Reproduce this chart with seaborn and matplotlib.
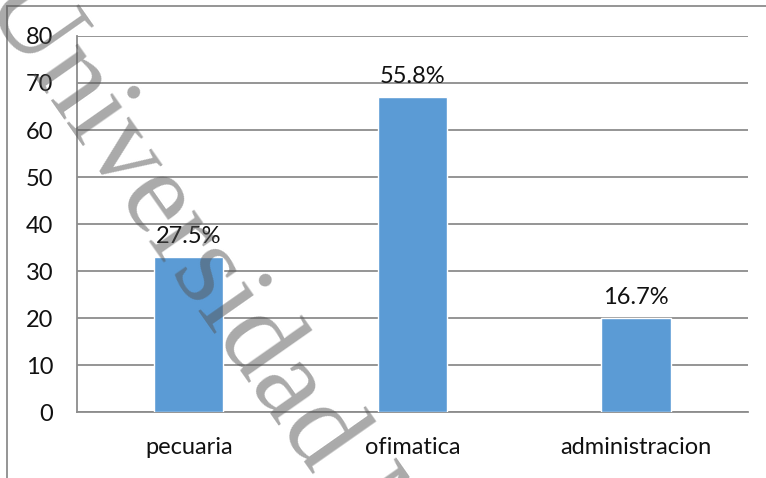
import matplotlib
matplotlib.use("Agg")
import matplotlib.pyplot as plt
import seaborn as sns
import pandas as pd
from matplotlib.patches import Rectangle

carreras = ['pecuaria', 'ofimatica', 'administracion']
alumnos = [33, 67, 20]
porcentajes = ['27.5%', '55.8%', '16.7%']

df = pd.DataFrame({'carrera': carreras, 'alumnos': alumnos})

sns.set_style('white')
plt.rcParams['font.family'] = ['Lato', 'DejaVu Sans']

fig = plt.figure(figsize=(7.66, 4.78), dpi=100)
ax = fig.add_axes([0.1005, 0.138, 0.876, 0.7867])

x = sns.barplot(x='carrera', y='alumnos', data=df, color='#5B9BD5',
                width=0.31, saturation=1, ax=ax, zorder=3)
x.bar_label(x.containers[0], labels=porcentajes, padding=7, fontsize=17,
            color='#111111')

ax.set_ylim(0, 80)
ax.set_yticks(range(0, 81, 10))
ax.set_xlim(-0.5, 2.5)
ax.set_xlabel('')
ax.set_ylabel('')
ax.yaxis.grid(True, color='#8c8c8c', linewidth=1.3)
ax.set_axisbelow(True)
for s in ['top', 'right']:
    ax.spines[s].set_visible(False)
for s in ['left', 'bottom']:
    ax.spines[s].set_color('#8c8c8c')
    ax.spines[s].set_linewidth(1.3)
ax.tick_params(axis='both', length=0, labelsize=17, colors='#111111')
ax.tick_params(axis='y', pad=17)
ax.tick_params(axis='x', pad=18)

# marco exterior del grafico
fig.patches.append(Rectangle((7 / 766, -0.2), 1.2, 1 - 6 / 478 + 0.2,
                             transform=fig.transFigure, fill=False,
                             edgecolor='#8c8c8c', linewidth=1.3))

# marca de agua (empieza fuera del borde, como en el original)
fig.text(-18 / 766, 1 - 2 / 478, 'Universidad Nacional', fontsize=85,
         family='Liberation Serif', color='#555555', alpha=0.5,
         rotation=-55, ha='left', va='baseline', rotation_mode='anchor',
         zorder=10)

fig.savefig('out.png', dpi=100)
